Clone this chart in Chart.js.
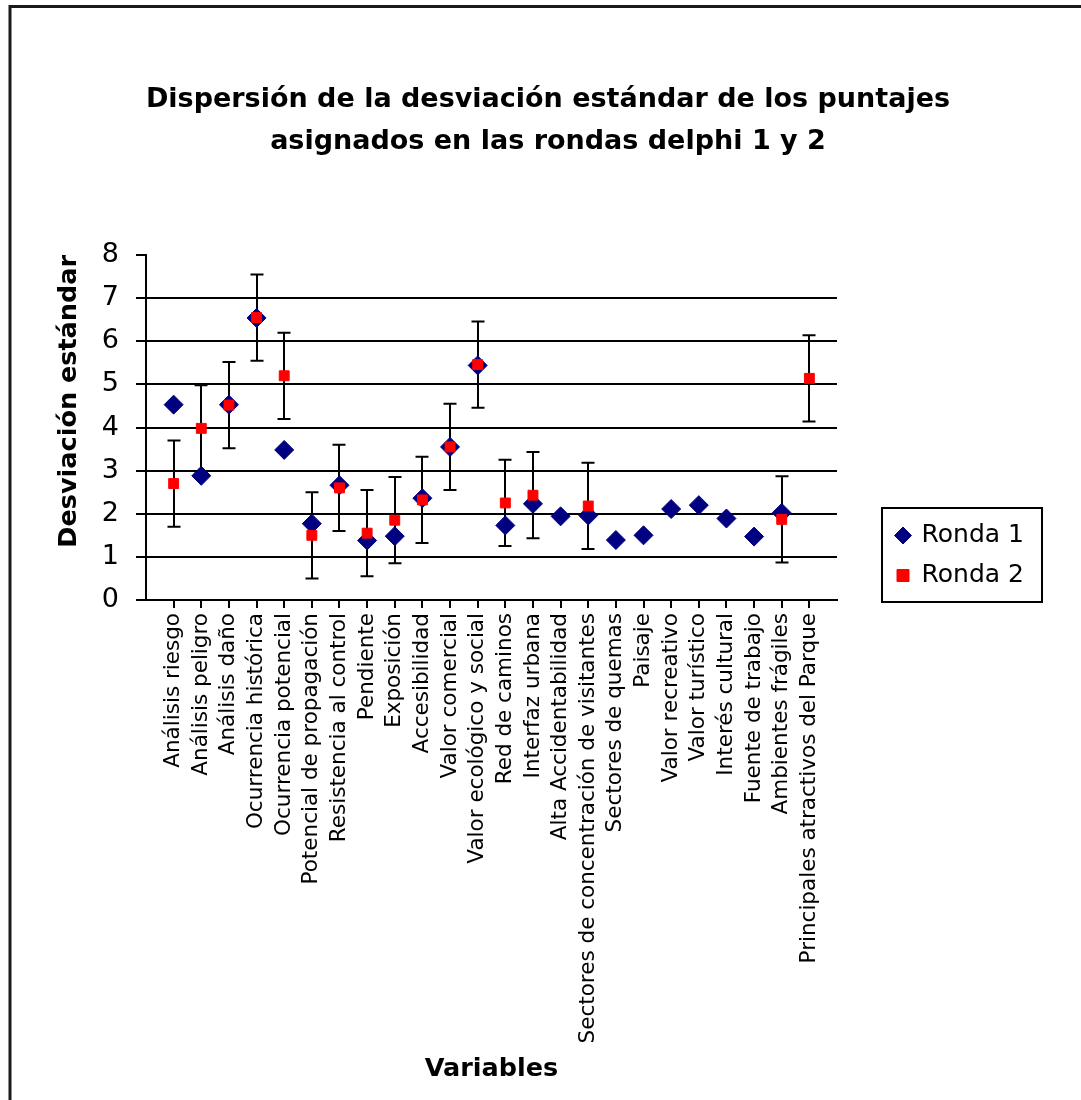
<!DOCTYPE html>
<html>
<head>
<meta charset="utf-8">
<script src="https://cdn.jsdelivr.net/npm/chart.js@4.4.1/dist/chart.umd.min.js"></script>
<style>
  html, body { margin: 0; padding: 0; background: #ffffff; }
  canvas { display: block; }
</style>
</head>
<body>
<canvas id="chart" width="1081" height="1100" style="width:1081px;height:1100px"></canvas>
<script>
// ---------------- data ----------------
const categories = [
  'Análisis riesgo',
  'Análisis peligro',
  'Análisis daño',
  'Ocurrencia histórica',
  'Ocurrencia potencial',
  'Potencial de propagación',
  'Resistencia al control',
  'Pendiente',
  'Exposición',
  'Accesibilidad',
  'Valor comercial',
  'Valor ecológico y social',
  'Red de caminos',
  'Interfaz urbana',
  'Alta Accidentabilidad',
  'Sectores de concentración de visitantes',
  'Sectores de quemas',
  'Paisaje',
  'Valor recreativo',
  'Valor turístico',
  'Interés cultural',
  'Fuente de trabajo',
  'Ambientes frágiles',
  'Principales atractivos del Parque'
];
const ronda1 = [4.53, 2.88, 4.53, 6.54, 3.48, 1.77, 2.66, 1.38, 1.48, 2.36, 3.55, 5.44,
                1.73, 2.23, 1.94, 1.96, 1.39, 1.50, 2.11, 2.20, 1.89, 1.47, 2.02, null];
const ronda2 = [2.70, 3.98, 4.52, 6.55, 5.20, 1.50, 2.60, 1.55, 1.85, 2.32, 3.55, 5.46,
                2.25, 2.43, null, 2.18, null, null, null, null, null, null, 1.87, 5.14];
const ronda2Error = [1, 1, 1, 1, 1, 1, 1, 1, 1, 1, 1, 1,
                     1, 1, null, 1, null, null, null, null, null, null, 1, 1];
const yTicks = [0, 1, 2, 3, 4, 5, 6, 7, 8];
const seriesNames = ['Ronda 1', 'Ronda 2'];
const chartTitle = ['Dispersión de la desviación estándar de los puntajes',
                    'asignados en las rondas delphi 1 y 2'];
const yTitle = 'Desviación estándar';
const xTitle = 'Variables';

// ---------------- plugins ----------------
const errorBarPlugin = {
  id: 'errorBars',
  beforeDatasetsDraw(chart) {
    const { ctx, scales: { x, y } } = chart;
    ctx.save();
    ctx.strokeStyle = '#000000';
    ctx.lineWidth = 2;
    ronda2.forEach((v, i) => {
      const e = ronda2Error[i];
      if (v == null || e == null) return;
      const px = Math.round(x.getPixelForValue(i + 1));
      const top = y.getPixelForValue(v + e);
      const bot = y.getPixelForValue(v - e);
      ctx.beginPath();
      ctx.moveTo(px, top); ctx.lineTo(px, bot);
      ctx.moveTo(px - 6.5, top); ctx.lineTo(px + 6.5, top);
      ctx.moveTo(px - 6.5, bot); ctx.lineTo(px + 6.5, bot);
      ctx.stroke();
    });
    ctx.restore();
  }
};

const legendFrame = { dx: 45, dyFromBottom: 92, w: 160, h: 94 };
const legendPlacePlugin = {
  id: 'legendPlace',
  afterLayout(chart) {
    const lg = chart.legend;
    if (!lg) return;
    const ca = chart.chartArea;
    lg.left = ca.right + legendFrame.dx;
    lg.top = ca.bottom - legendFrame.dyFromBottom;
    lg.width = legendFrame.w;
    lg.height = 200;
    lg.right = lg.left + lg.width;
    lg.bottom = lg.top + lg.height;
  },
  afterDraw(chart) {
    const lg = chart.legend;
    if (!lg) return;
    const ctx = chart.ctx;
    ctx.save();
    ctx.strokeStyle = '#000000';
    ctx.lineWidth = 2;
    ctx.strokeRect(lg.left, lg.top, legendFrame.w, legendFrame.h);
    ctx.restore();
  }
};

const framePlugin = {
  id: 'frame',
  afterDraw(chart) {
    const ctx = chart.ctx;
    ctx.save();
    ctx.strokeStyle = '#1a1a1a';
    ctx.lineWidth = 3;
    ctx.beginPath();
    ctx.moveTo(10, chart.height);
    ctx.lineTo(10, 6.5);
    ctx.lineTo(chart.width, 6.5);
    ctx.stroke();
    ctx.restore();
  }
};

// ---------------- chart ----------------
Chart.defaults.font.family = "'DejaVu Sans', 'Liberation Sans', Arial, sans-serif";
Chart.defaults.color = '#000000';

const toPoints = arr => arr.map((v, i) => ({ x: i + 1, y: v })).filter(p => p.y != null);

new Chart(document.getElementById('chart'), {
  type: 'scatter',
  data: {
    datasets: [
      {
        label: seriesNames[0],
        data: toPoints(ronda1),
        pointStyle: 'rectRot',
        pointRadius: 9.5,
        pointHoverRadius: 9.5,
        backgroundColor: '#000080',
        borderColor: '#000080',
        borderWidth: 1,
        order: 1
      },
      {
        label: seriesNames[1],
        data: toPoints(ronda2),
        pointStyle: 'rect',
        pointRadius: 7,
        pointHoverRadius: 7,
        backgroundColor: '#ff0000',
        borderColor: '#ff0000',
        borderWidth: 1,
        order: 0
      }
    ]
  },
  options: {
    responsive: false,
    animation: false,
    devicePixelRatio: 1,
    layout: { padding: { left: 15, right: 0, top: 0, bottom: 0 } },
    scales: {
      x: {
        type: 'linear',
        min: 0,
        max: categories.length + 1,
        afterBuildTicks: s => { s.ticks = categories.map((c, i) => ({ value: i + 1 })); },
        afterFit: s => { s.height = 500; },
        ticks: {
          autoSkip: false,
          minRotation: 90,
          maxRotation: 90,
          padding: 5,
          color: '#000000',
          font: { size: 21.5 },
          callback: v => categories[v - 1] ?? ''
        },
        grid: { drawOnChartArea: false, drawTicks: true, tickLength: 8, color: '#000000', lineWidth: 2 },
        border: { display: true, color: '#000000', width: 2 },
        title: {
          display: true, text: xTitle, color: '#000000',
          font: { size: 25.5, weight: 'bold' },
          padding: { top: 0, bottom: 15 }
        }
      },
      y: {
        type: 'linear',
        min: 0,
        max: 8,
        afterBuildTicks: s => { s.ticks = yTicks.map(v => ({ value: v })); },
        afterFit: s => { s.width = 131; },
        ticks: { padding: 17, color: '#000000', font: { size: 27 } },
        grid: {
          color: c => (c.tick && c.tick.value === 8) ? 'rgba(0,0,0,0)' : '#000000',
          tickColor: '#000000',
          lineWidth: 2,
          tickLength: 10,
          drawTicks: true
        },
        border: { display: true, color: '#000000', width: 2 },
        title: {
          display: true, text: yTitle, align: 'end', color: '#000000',
          font: { size: 25.5, weight: 'bold' },
          padding: { top: 39, bottom: 0 }
        }
      },
      y2: {
        type: 'linear',
        position: 'right',
        display: true,
        afterFit: s => { s.width = 244; },
        grid: { display: false, drawTicks: false },
        ticks: { display: false },
        border: { display: false }
      }
    },
    plugins: {
      title: {
        display: true,
        text: chartTitle,
        color: '#000000',
        font: { size: 27, weight: 'bold', lineHeight: 42 / 27 },
        padding: { top: 79, bottom: 92 }
      },
      legend: {
        display: true,
        position: 'chartArea',
        align: 'start',
        labels: {
          usePointStyle: true,
          boxWidth: 12,
          boxHeight: 12,
          padding: 15,
          color: '#000000',
          font: { size: 25 },
          sort: (a, b) => a.datasetIndex - b.datasetIndex
        }
      },
      tooltip: { enabled: false }
    }
  },
  plugins: [errorBarPlugin, legendPlacePlugin, framePlugin]
});
</script>
</body>
</html>
